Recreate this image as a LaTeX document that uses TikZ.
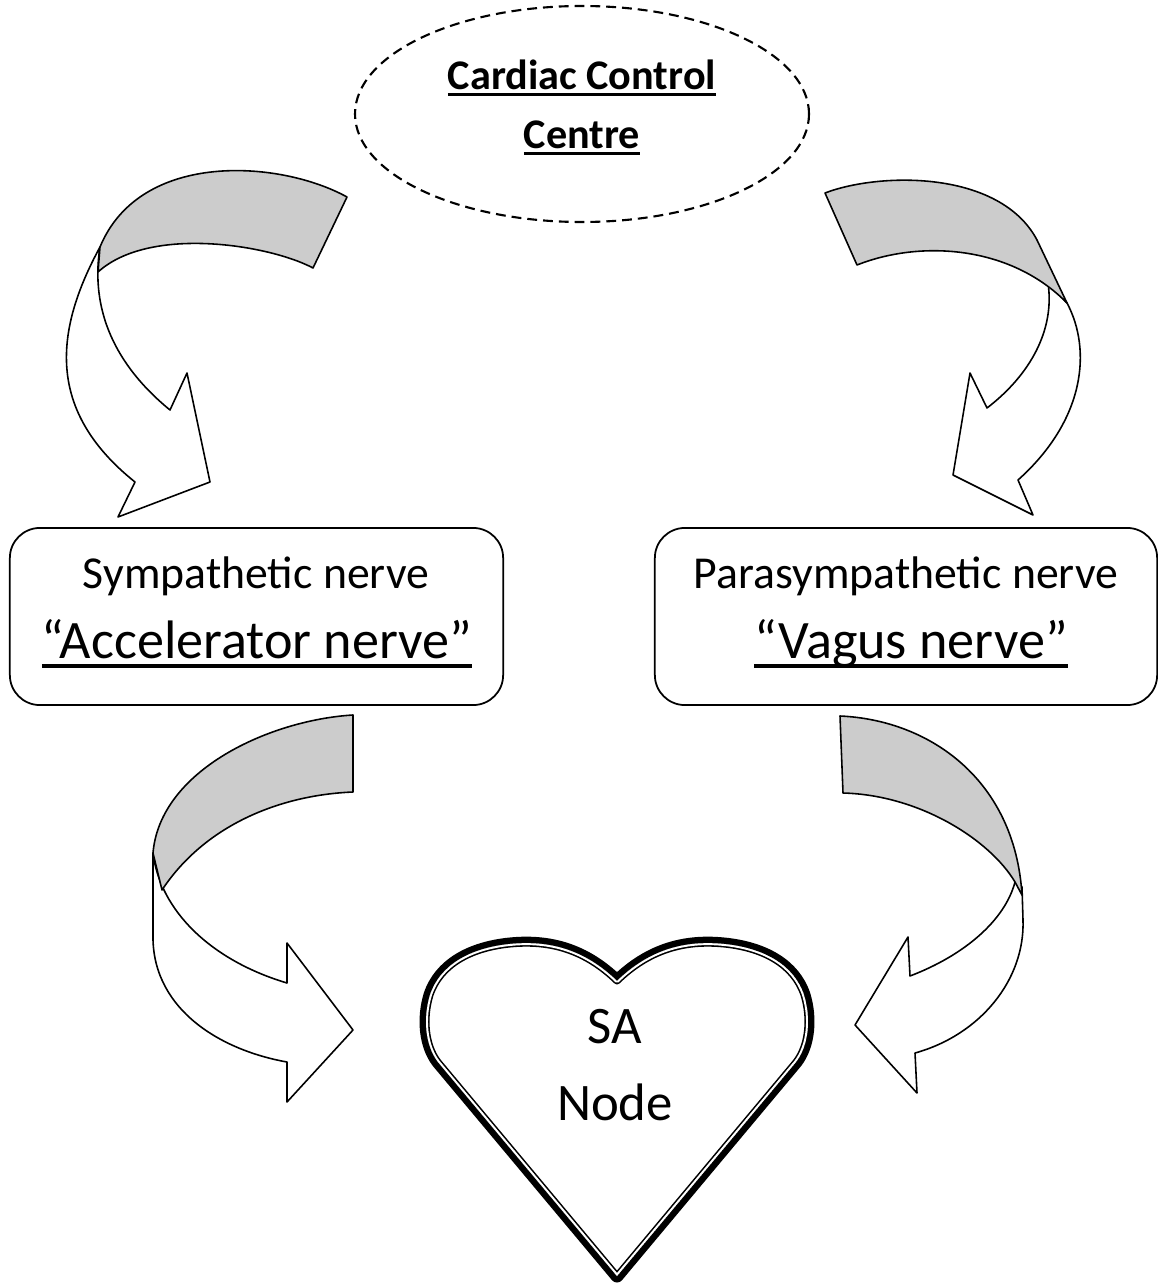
\documentclass[tikz,border=0pt]{standalone}
\usepackage{fontspec}
\setmainfont{Carlito}
\usetikzlibrary{positioning}
\newcommand{\ultext}[2][1.7pt]{\sbox0{#2}\rlap{\rule[-#1]{\wd0}{0.95pt}}\usebox0}
\newcommand{\heartline}{(617,981) .. controls (585,950) and (550,940) .. (510,944) .. controls (470,948) and (440,965) .. (430,995) .. controls (423,1018) and (425,1045) .. (438,1062) -- (617,1276) -- (796,1062) .. controls (809,1045) and (811,1018) .. (804,995) .. controls (794,965) and (764,948) .. (724,944) .. controls (684,940) and (649,950) .. (617,981) -- cycle}

\begin{document}
\begin{tikzpicture}[x={(0.01cm,0cm)},y={(0cm,-0.01cm)},line join=round,
  nervebox/.style={draw,line width=0.5pt,rounded corners=0.3cm,minimum height=1.77cm,inner sep=0pt},
  frontband/.style={draw,line width=0.45pt,fill=white},
  backband/.style={draw,line width=0.45pt,fill=gray!40},
  smalltxt/.style={anchor=base,font=\fontsize{13}{15}\selectfont,inner sep=0pt},
  bigtxt/.style={anchor=base,font=\fontsize{15.4}{18}\selectfont,inner sep=0pt},
  hearttxt/.style={anchor=base,font=\fontsize{15}{18}\selectfont,inner sep=0pt}]
  \useasboundingbox (0,0) rectangle (1158,1285);

  \draw[dash pattern=on 2.8pt off 1.7pt,line width=0.6pt] (582,114) ellipse [x radius=227,y radius=108];
  \node[anchor=base,font=\fontsize{12}{14}\selectfont\bfseries,inner sep=0pt] (ccc1) at (582,90) {\ultext{Cardiac Control}};
  \node[anchor=base,font=\fontsize{12}{14}\selectfont\bfseries,inner sep=0pt] (ccc2) at (582,149) {\ultext{Centre}};

  \draw[frontband] (100,247) .. controls (55,330) and (45,410) .. (135,482) -- (118,517) -- (210,482) -- (187,373) -- (170,410) .. controls (115,365) and (90,310) .. (100,247) -- cycle;
  \draw[backband] (347,197) .. controls (280,160) and (140,150) .. (100,247) -- (98,272) .. controls (150,225) and (270,245) .. (313,268) -- cycle;

  \draw[frontband] (1048,283) .. controls (1055,330) and (1030,375) .. (987,408) -- (970,373) -- (953,475) -- (1033,515) -- (1018,480) .. controls (1085,420) and (1092,350) .. (1067,303) -- cycle;
  \draw[backband] (825,193) .. controls (880,172) and (1000,170) .. (1037,240) -- (1067,303) .. controls (1010,245) and (920,240) .. (857,265) -- cycle;

  \draw[frontband] (153,853) -- (153,940) .. controls (155,1010) and (220,1050) .. (287,1062) -- (287,1102) -- (353,1030) -- (287,943) -- (287,983) .. controls (210,960) and (160,910) .. (153,853) -- cycle;
  \draw[backband] (353,715) .. controls (270,720) and (160,770) .. (153,853) -- (162,890) .. controls (205,825) and (280,795) .. (353,792) -- cycle;

  \draw[frontband] (1022,887) -- (1023,920) .. controls (1025,980) and (980,1035) .. (915,1053) -- (917,1093) -- (855,1025) -- (908,937) -- (910,976) .. controls (965,955) and (1005,920) .. (1015,882) -- cycle;
  \draw[backband] (840,716) .. controls (930,720) and (1015,780) .. (1022,895) -- (1015,882) .. controls (990,840) and (920,795) .. (843,793) -- cycle;

  \node[nervebox,minimum width=4.93cm] (symp) at (256.5,616.5) {};
  \node[smalltxt] (symp1) at (256,588) {Sympathetic nerve};
  \node[bigtxt] (symp2) at (257,658) {\ultext[2.7pt]{“Accelerator nerve”}};

  \node[nervebox,minimum width=5.02cm] (para) at (906,616.5) {};
  \node[smalltxt] (para1) at (906,588) {Parasympathetic nerve};
  \node[bigtxt] (para2) at (911,658) {\ultext[2.7pt]{“Vagus nerve”}};

  \draw[line width=3.7pt] \heartline;
  \begin{scope}
    \clip \heartline;
    \fill[white] \heartline;
    \draw[line width=2pt] \heartline;
    \draw[white,line width=1.1pt] \heartline;
  \end{scope}
  \node[hearttxt] (sa1) at (615,1043) {SA};
  \node[hearttxt] (sa2) at (615,1120) {Node};
\end{tikzpicture}
\end{document}
